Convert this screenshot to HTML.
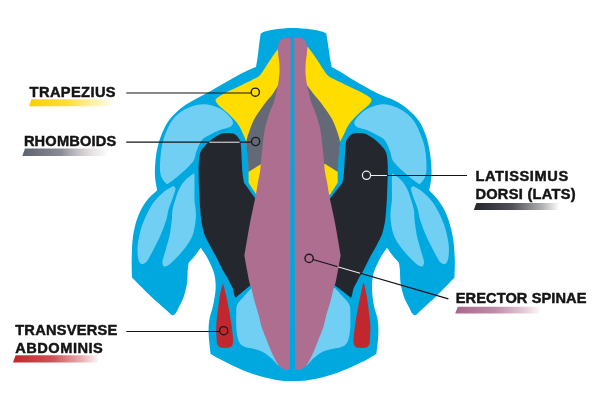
<!DOCTYPE html>
<html>
<head>
<meta charset="utf-8">
<title>Back muscles</title>
<style>
html,body{margin:0;padding:0;background:#fff;}
body{width:600px;height:401px;overflow:hidden;}
svg{display:block;}
text{font-family:"Liberation Sans",sans-serif;font-weight:bold;fill:#141414;}
</style>
</head>
<body>
<svg width="600" height="401" viewBox="0 0 600 401">
<defs>
<filter id="noaa" filterUnits="userSpaceOnUse" x="0" y="0" width="600" height="401"><feOffset dx="0" dy="0"/></filter>
<linearGradient id="gy" x1="0" x2="1" y1="0" y2="0"><stop offset="0" stop-color="#f7cf00"/><stop offset="0.45" stop-color="#ffd800" stop-opacity="0.8"/><stop offset="0.8" stop-color="#ffe040" stop-opacity="0.35"/><stop offset="1" stop-color="#ffe040" stop-opacity="0"/></linearGradient>
<linearGradient id="gg" x1="0" x2="1" y1="0" y2="0"><stop offset="0" stop-color="#5d616e"/><stop offset="0.45" stop-color="#6d707c" stop-opacity="0.8"/><stop offset="0.8" stop-color="#b9a6ae" stop-opacity="0.35"/><stop offset="1" stop-color="#b9a6ae" stop-opacity="0"/></linearGradient>
<linearGradient id="gr" x1="0" x2="1" y1="0" y2="0"><stop offset="0" stop-color="#c1272d"/><stop offset="0.45" stop-color="#c1272d" stop-opacity="0.8"/><stop offset="0.8" stop-color="#c1272d" stop-opacity="0.35"/><stop offset="1" stop-color="#c1272d" stop-opacity="0"/></linearGradient>
<linearGradient id="gd" x1="0" x2="1" y1="0" y2="0"><stop offset="0" stop-color="#25272f"/><stop offset="0.45" stop-color="#25272f" stop-opacity="0.8"/><stop offset="0.8" stop-color="#25272f" stop-opacity="0.35"/><stop offset="1" stop-color="#25272f" stop-opacity="0"/></linearGradient>
<linearGradient id="gm" x1="0" x2="1" y1="0" y2="0"><stop offset="0" stop-color="#a9678b"/><stop offset="0.45" stop-color="#ae6e90" stop-opacity="0.8"/><stop offset="0.8" stop-color="#ae6e90" stop-opacity="0.35"/><stop offset="1" stop-color="#ae6e90" stop-opacity="0"/></linearGradient>
</defs>
<rect width="600" height="401" fill="#fff"/>
<path d="M260.70,33.50 C260.42,35.58 259.53,41.92 259.00,46.00 C258.47,50.08 258.00,54.50 257.50,58.00 C257.00,61.50 256.25,65.50 256.00,67.00 C254.67,67.53 251.22,68.70 248.00,70.20 C244.78,71.70 241.37,73.45 236.70,76.00 C232.03,78.55 224.87,82.70 220.00,85.50 C215.13,88.30 212.08,90.25 207.50,92.80 C202.92,95.35 197.08,98.10 192.50,100.80 C187.92,103.50 184.00,105.63 180.00,109.00 C176.00,112.37 171.70,116.42 168.50,121.00 C165.30,125.58 162.80,131.25 160.80,136.50 C158.80,141.75 157.48,146.92 156.50,152.50 C155.52,158.08 155.07,165.25 154.90,170.00 C154.73,174.75 155.11,177.62 155.50,181.00 C155.89,184.38 156.96,188.75 157.25,190.30 C155.62,191.87 150.38,196.13 147.50,199.70 C144.62,203.27 142.03,207.48 140.00,211.70 C137.97,215.92 136.53,220.28 135.30,225.00 C134.07,229.72 133.20,234.17 132.60,240.00 C132.00,245.83 131.80,253.75 131.70,260.00 C131.60,266.25 131.95,274.58 132.00,277.50 C135.00,280.50 144.50,290.25 150.00,295.50 C155.50,300.75 161.75,306.08 165.00,309.00 C168.25,311.92 168.75,312.33 169.50,313.00 C169.75,313.25 170.42,314.13 171.00,314.50 C171.58,314.87 172.33,315.28 173.00,315.20 C173.67,315.12 174.42,314.53 175.00,314.00 C175.58,313.47 176.25,312.33 176.50,312.00 C176.83,311.33 177.30,310.55 178.50,308.00 C179.70,305.45 182.28,300.82 183.70,296.70 C185.12,292.58 186.33,287.75 187.00,283.30 C187.67,278.85 187.42,273.43 187.70,270.00 C187.98,266.57 188.53,263.92 188.70,262.70 C189.70,261.58 192.70,258.50 194.70,256.00 C196.70,253.50 199.70,249.08 200.70,247.70 C201.63,249.08 204.50,252.87 206.30,256.00 C208.10,259.13 210.10,263.17 211.50,266.50 C212.90,269.83 214.02,272.25 214.70,276.00 C215.38,279.75 215.85,284.17 215.60,289.00 C215.35,293.83 214.25,299.83 213.20,305.00 C212.15,310.17 210.05,315.00 209.30,320.00 C208.55,325.00 208.48,329.33 208.70,335.00 C208.92,340.67 210.28,350.83 210.60,354.00 C213.00,355.28 218.43,358.53 225.00,361.70 C231.57,364.87 241.67,370.00 250.00,373.00 C258.33,376.00 267.92,378.37 275.00,379.70 C282.08,381.03 286.58,380.98 292.50,381.00 C298.42,381.02 303.21,381.10 310.49,379.81 C317.77,378.52 327.62,376.21 336.19,373.26 C344.76,370.31 355.19,365.32 361.89,362.11 C368.59,358.90 373.98,355.35 376.40,354.00 C376.72,350.83 378.08,340.67 378.30,335.00 C378.52,329.33 378.45,325.00 377.70,320.00 C376.95,315.00 374.75,310.17 373.80,305.00 C372.85,299.83 372.15,293.83 372.00,289.00 C371.85,284.17 372.22,279.75 372.90,276.00 C373.58,272.25 374.68,269.83 376.10,266.50 C377.52,263.17 379.58,259.13 381.40,256.00 C383.22,252.87 386.07,249.08 387.00,247.70 C388.00,249.08 391.02,253.50 393.00,256.00 C394.98,258.50 397.92,261.58 398.90,262.70 C399.07,263.92 399.62,266.57 399.90,270.00 C400.18,273.43 399.93,278.85 400.60,283.30 C401.27,287.75 402.44,292.58 403.90,296.70 C405.36,300.82 408.14,305.45 409.37,308.00 C410.61,310.55 410.99,311.33 411.31,312.00 C411.55,312.33 412.20,313.47 412.76,314.00 C413.33,314.53 414.05,315.12 414.70,315.20 C415.35,315.28 416.07,314.87 416.64,314.50 C417.20,314.13 417.85,313.25 418.09,313.00 C418.82,312.33 419.30,311.92 422.45,309.00 C425.59,306.08 431.63,300.75 436.97,295.50 C442.31,290.25 451.58,280.50 454.50,277.50 C454.55,274.58 455.00,266.25 454.80,260.00 C454.60,253.75 454.10,245.83 453.30,240.00 C452.50,234.17 451.33,229.72 450.00,225.00 C448.67,220.28 447.33,215.92 445.30,211.70 C443.27,207.48 440.49,203.27 437.80,199.70 C435.11,196.13 430.59,191.87 429.15,190.30 C429.44,188.75 430.51,184.38 430.90,181.00 C431.29,177.62 431.67,174.75 431.50,170.00 C431.33,165.25 430.78,158.08 429.90,152.50 C429.02,146.92 428.02,141.75 426.20,136.50 C424.38,131.25 422.12,125.58 419.00,121.00 C415.88,116.42 411.58,112.40 407.50,109.00 C403.42,105.60 399.08,103.00 394.50,100.60 C389.92,98.20 384.50,96.70 380.00,94.60 C375.50,92.50 372.42,90.73 367.50,88.00 C362.58,85.27 355.17,80.98 350.50,78.20 C345.83,75.42 342.63,73.17 339.50,71.30 C336.37,69.43 333.00,67.72 331.70,67.00 C331.42,65.50 330.59,61.50 330.01,58.00 C329.44,54.50 328.88,50.08 328.26,46.00 C327.64,41.92 326.63,35.58 326.30,33.50 C325.55,33.17 324.48,32.20 321.77,31.50 C319.07,30.80 314.94,29.88 310.06,29.30 C305.19,28.72 298.18,28.00 292.50,28.00 C286.82,28.00 280.58,28.72 276.00,29.30 C271.42,29.88 267.55,30.80 265.00,31.50 C262.45,32.20 261.42,33.17 260.70,33.50 Z" fill="#00a8e0"/>
<path d="M282.00,45.00 L278.00,49.00 C277.25,50.00 275.08,52.75 273.50,55.00 C271.92,57.25 270.08,60.08 268.50,62.50 C266.92,64.92 265.33,67.50 264.00,69.50 C262.67,71.50 261.67,73.17 260.50,74.50 C259.33,75.83 258.42,76.58 257.00,77.50 C255.58,78.42 254.28,78.88 252.00,80.00 C249.72,81.12 246.30,82.73 243.30,84.20 C240.30,85.67 237.05,87.33 234.00,88.80 C230.95,90.27 227.78,91.50 225.00,93.00 C222.22,94.50 218.87,96.55 217.30,97.80 C215.73,99.05 215.62,99.55 215.60,100.50 C215.58,101.45 216.38,102.42 217.20,103.50 C218.02,104.58 218.45,105.12 220.50,107.00 C222.55,108.88 226.50,111.80 229.50,114.80 C232.50,117.80 236.17,121.63 238.50,125.00 C240.83,128.37 242.20,132.17 243.50,135.00 C244.80,137.83 245.83,140.83 246.30,142.00 C246.45,143.33 246.85,147.00 247.20,150.00 C247.55,153.00 248.17,156.17 248.40,160.00 C248.63,163.83 248.57,169.22 248.60,173.00 C248.63,176.78 248.60,181.08 248.60,182.70 L256.30,194.70 L265.00,194.00 L285.00,100.00 L282.00,45.00 Z" fill="#ffdd00"/>
<path d="M305.20,44.70 L309.20,48.70 C309.95,49.70 312.12,52.45 313.70,54.70 C315.28,56.95 317.12,59.78 318.70,62.20 C320.28,64.62 321.87,67.20 323.20,69.20 C324.53,71.20 325.53,72.87 326.70,74.20 C327.87,75.53 328.78,76.28 330.20,77.20 C331.62,78.12 332.92,78.58 335.20,79.70 C337.48,80.82 340.90,82.43 343.90,83.90 C346.90,85.37 350.15,87.03 353.20,88.50 C356.25,89.97 359.42,91.20 362.20,92.70 C364.98,94.20 368.33,96.25 369.90,97.50 C371.47,98.75 371.58,99.25 371.60,100.20 C371.62,101.15 370.82,102.12 370.00,103.20 C369.18,104.28 368.75,104.82 366.70,106.70 C364.65,108.58 360.70,111.50 357.70,114.50 C354.70,117.50 351.03,121.33 348.70,124.70 C346.37,128.07 345.15,131.82 343.70,134.70 C342.25,137.58 340.62,140.78 340.00,142.00 C339.85,143.33 339.45,147.00 339.10,150.00 C338.75,153.00 338.13,156.17 337.90,160.00 C337.67,163.83 337.73,169.22 337.70,173.00 C337.67,176.78 337.70,181.08 337.70,182.70 L330.00,194.70 L321.30,194.00 L300.00,100.00 L305.20,44.70 Z" fill="#ffdd00"/>
<path d="M284.00,78.00 L279.20,83.50 C278.12,85.25 274.90,90.92 272.70,94.00 C270.50,97.08 268.23,99.12 266.00,102.00 C263.77,104.88 261.30,108.38 259.30,111.30 C257.30,114.22 255.43,116.83 254.00,119.50 C252.57,122.17 251.70,124.72 250.70,127.30 C249.70,129.88 248.73,132.55 248.00,135.00 C247.27,137.45 246.50,139.50 246.30,142.00 C246.10,144.50 246.52,147.00 246.80,150.00 C247.08,153.00 247.73,156.33 248.00,160.00 C248.27,163.67 248.33,170.00 248.40,172.00 L260.70,164.30 L275.00,160.00 L284.00,78.00 Z" fill="#636977"/>
<path d="M301.00,78.00 L305.80,83.50 C307.10,85.25 311.18,90.92 313.60,94.00 C316.02,97.08 318.07,99.12 320.30,102.00 C322.53,104.88 325.00,108.38 327.00,111.30 C329.00,114.22 330.87,116.83 332.30,119.50 C333.73,122.17 334.60,124.72 335.60,127.30 C336.60,129.88 337.57,132.55 338.30,135.00 C339.03,137.45 339.80,139.50 340.00,142.00 C340.20,144.50 339.78,147.00 339.50,150.00 C339.22,153.00 338.57,156.33 338.30,160.00 C338.03,163.67 337.97,170.00 337.90,172.00 L325.60,164.30 L311.30,160.00 L301.00,78.00 Z" fill="#636977"/>
<path d="M167.00,184.25 C166.25,183.38 163.67,181.38 162.50,179.00 C161.33,176.62 160.21,174.83 160.00,170.00 C159.79,165.17 160.42,155.83 161.25,150.00 C162.08,144.17 163.12,140.00 165.00,135.00 C166.88,130.00 169.17,124.28 172.50,120.00 C175.83,115.72 180.00,111.92 185.00,109.30 C190.00,106.68 196.67,104.43 202.50,104.30 C208.33,104.17 215.42,106.38 220.00,108.50 C224.58,110.62 227.83,114.67 230.00,117.00 C232.17,119.33 232.83,120.95 233.00,122.50 C233.17,124.05 232.17,125.33 231.00,126.30 C229.83,127.27 227.83,127.68 226.00,128.30 C224.17,128.92 222.67,128.93 220.00,130.00 C217.33,131.07 213.00,133.03 210.00,134.70 C207.00,136.37 204.22,137.33 202.00,140.00 C199.78,142.67 198.03,147.37 196.70,150.70 C195.37,154.03 195.12,157.62 194.00,160.00 C192.88,162.38 191.50,163.33 190.00,165.00 C188.50,166.67 187.58,167.67 185.00,170.00 C182.42,172.33 177.50,176.62 174.50,179.00 C171.50,181.38 168.25,183.38 167.00,184.25 Z" fill="#70cff2"/>
<path d="M419.50,184.25 C420.25,183.38 422.83,181.38 424.00,179.00 C425.17,176.62 426.29,174.83 426.50,170.00 C426.71,165.17 426.20,155.78 425.25,150.00 C424.30,144.22 422.79,140.25 420.80,135.30 C418.81,130.35 416.63,124.58 413.30,120.30 C409.97,116.02 405.68,112.27 400.80,109.60 C395.92,106.93 389.58,104.43 384.00,104.30 C378.42,104.17 371.75,106.63 367.30,108.80 C362.85,110.97 359.47,114.97 357.30,117.30 C355.13,119.63 354.47,121.25 354.30,122.80 C354.13,124.35 355.13,125.63 356.30,126.60 C357.47,127.57 359.47,127.98 361.30,128.60 C363.13,129.22 364.77,129.28 367.30,130.30 C369.83,131.32 373.63,133.08 376.50,134.70 C379.37,136.32 382.28,137.33 384.50,140.00 C386.72,142.67 388.47,147.37 389.80,150.70 C391.13,154.03 391.38,157.62 392.50,160.00 C393.62,162.38 395.00,163.33 396.50,165.00 C398.00,166.67 398.92,167.67 401.50,170.00 C404.08,172.33 409.00,176.62 412.00,179.00 C415.00,181.38 418.25,183.38 419.50,184.25 Z" fill="#70cff2"/>
<path d="M172.00,186.80 C173.60,185.88 173.10,186.08 173.60,186.20 C174.10,186.32 174.70,186.95 175.00,187.50 C175.30,188.05 175.78,187.70 175.40,189.50 C175.02,191.30 173.82,195.05 172.70,198.30 C171.58,201.55 169.70,205.67 168.70,209.00 C167.70,212.33 167.40,215.63 166.70,218.30 C166.00,220.97 165.17,223.05 164.50,225.00 C163.83,226.95 163.67,227.62 162.70,230.00 C161.73,232.38 160.27,235.97 158.70,239.30 C157.13,242.63 155.17,246.47 153.30,250.00 C151.43,253.53 148.88,258.33 147.50,260.50 C146.12,262.67 145.92,262.38 145.00,263.00 C144.08,263.62 142.95,264.37 142.00,264.20 C141.05,264.03 140.00,263.37 139.30,262.00 C138.60,260.63 138.08,258.67 137.80,256.00 C137.52,253.33 137.35,249.38 137.60,246.00 C137.85,242.62 138.45,239.42 139.30,235.70 C140.15,231.98 141.25,227.70 142.70,223.70 C144.15,219.70 146.00,215.48 148.00,211.70 C150.00,207.92 152.03,204.33 154.70,201.00 C157.37,197.67 161.12,194.07 164.00,191.70 C166.88,189.33 170.40,187.72 172.00,186.80Z" fill="#70cff2"/>
<path d="M414.40,186.80 C412.80,185.88 413.30,186.08 412.80,186.20 C412.30,186.32 411.70,186.95 411.40,187.50 C411.10,188.05 410.62,187.70 411.00,189.50 C411.38,191.30 412.58,195.05 413.70,198.30 C414.82,201.55 416.70,205.67 417.70,209.00 C418.70,212.33 419.00,215.63 419.70,218.30 C420.40,220.97 421.23,223.05 421.90,225.00 C422.57,226.95 422.73,227.62 423.70,230.00 C424.67,232.38 426.13,235.97 427.70,239.30 C429.27,242.63 431.23,246.47 433.10,250.00 C434.97,253.53 437.52,258.33 438.90,260.50 C440.28,262.67 440.48,262.38 441.40,263.00 C442.32,263.62 443.45,264.37 444.40,264.20 C445.35,264.03 446.40,263.37 447.10,262.00 C447.80,260.63 448.32,258.67 448.60,256.00 C448.88,253.33 449.05,249.38 448.80,246.00 C448.55,242.62 447.95,239.42 447.10,235.70 C446.25,231.98 445.15,227.70 443.70,223.70 C442.25,219.70 440.40,215.48 438.40,211.70 C436.40,207.92 434.37,204.33 431.70,201.00 C429.03,197.67 425.28,194.07 422.40,191.70 C419.52,189.33 416.00,187.72 414.40,186.80Z" fill="#70cff2"/>
<path d="M194.00,173.30 C192.50,174.50 187.50,177.80 185.00,180.50 C182.50,183.20 180.62,186.25 179.00,189.50 C177.38,192.75 176.33,196.58 175.25,200.00 C174.17,203.42 173.07,206.67 172.50,210.00 C171.93,213.33 172.13,216.67 171.80,220.00 C171.47,223.33 170.93,227.17 170.50,230.00 C170.07,232.83 170.08,233.58 169.25,237.00 C168.42,240.42 166.62,246.50 165.50,250.50 C164.38,254.50 162.92,258.58 162.50,261.00 C162.08,263.42 162.62,264.08 163.00,265.00 C163.38,265.92 163.58,266.67 164.75,266.50 C165.92,266.33 167.38,266.17 170.00,264.00 C172.62,261.83 177.25,257.25 180.50,253.50 C183.75,249.75 187.33,245.00 189.50,241.50 C191.67,238.00 192.47,236.08 193.50,232.50 C194.53,228.92 195.33,223.75 195.70,220.00 C196.07,216.25 195.90,213.33 195.70,210.00 C195.50,206.67 194.70,204.17 194.50,200.00 C194.30,195.83 194.50,189.00 194.50,185.00 C194.50,181.00 194.58,177.95 194.50,176.00 C194.42,174.05 194.08,173.75 194.00,173.30 Z" fill="#70cff2"/>
<path d="M392.40,173.30 C393.90,174.50 398.90,177.80 401.40,180.50 C403.90,183.20 405.77,186.25 407.40,189.50 C409.02,192.75 410.07,196.58 411.15,200.00 C412.23,203.42 413.32,206.67 413.90,210.00 C414.47,213.33 414.27,216.67 414.60,220.00 C414.93,223.33 415.47,227.17 415.90,230.00 C416.32,232.83 416.32,233.58 417.15,237.00 C417.98,240.42 419.77,246.50 420.90,250.50 C422.02,254.50 423.48,258.58 423.90,261.00 C424.32,263.42 423.77,264.08 423.40,265.00 C423.02,265.92 422.82,266.67 421.65,266.50 C420.48,266.33 419.02,266.17 416.40,264.00 C413.77,261.83 409.15,257.25 405.90,253.50 C402.65,249.75 399.07,245.00 396.90,241.50 C394.73,238.00 393.93,236.08 392.90,232.50 C391.87,228.92 391.07,223.75 390.70,220.00 C390.33,216.25 390.50,213.33 390.70,210.00 C390.90,206.67 391.70,204.17 391.90,200.00 C392.10,195.83 391.90,189.00 391.90,185.00 C391.90,181.00 391.82,177.95 391.90,176.00 C391.98,174.05 392.32,173.75 392.40,173.30 Z" fill="#70cff2"/>
<path d="M251.50,288.00 L265.00,288.00 L286.00,366.00 L278.00,365.50 C277.42,364.83 275.72,362.80 274.50,361.50 C273.28,360.20 272.67,359.30 270.70,357.70 C268.73,356.10 265.60,353.38 262.70,351.90 C259.80,350.42 256.08,349.57 253.30,348.80 C250.52,348.03 247.97,347.93 246.00,347.30 C244.03,346.67 242.72,346.05 241.50,345.00 C240.28,343.95 239.45,342.83 238.70,341.00 C237.95,339.17 237.42,336.67 237.00,334.00 C236.58,331.33 236.32,328.67 236.20,325.00 C236.08,321.33 236.23,315.08 236.30,312.00 C236.37,308.92 236.23,308.08 236.60,306.50 C236.97,304.92 237.60,303.83 238.50,302.50 C239.40,301.17 240.58,300.08 242.00,298.50 C243.42,296.92 245.42,294.75 247.00,293.00 C248.58,291.25 250.75,288.83 251.50,288.00 Z" fill="#70cff2"/>
<path d="M335.10,288.00 L320.00,288.00 L299.00,366.00 L307.00,365.50 C307.58,364.83 309.28,362.80 310.50,361.50 C311.72,360.20 312.33,359.30 314.30,357.70 C316.27,356.10 319.13,353.38 322.30,351.90 C325.47,350.42 330.25,349.57 333.30,348.80 C336.35,348.03 338.63,347.93 340.60,347.30 C342.57,346.67 343.88,346.05 345.10,345.00 C346.32,343.95 347.15,342.83 347.90,341.00 C348.65,339.17 349.18,336.67 349.60,334.00 C350.02,331.33 350.28,328.67 350.40,325.00 C350.52,321.33 350.37,315.08 350.30,312.00 C350.23,308.92 350.37,308.08 350.00,306.50 C349.63,304.92 349.00,303.83 348.10,302.50 C347.20,301.17 346.02,300.08 344.60,298.50 C343.18,296.92 341.18,294.75 339.60,293.00 C338.02,291.25 335.85,288.83 335.10,288.00 Z" fill="#70cff2"/>
<path d="M244.00,182.70 L257.00,201.00 C256.17,204.67 253.50,216.50 252.00,223.00 C250.50,229.50 248.92,234.50 248.00,240.00 C247.08,245.50 246.33,251.00 246.50,256.00 C246.67,261.00 248.08,265.33 249.00,270.00 C249.92,274.67 251.50,281.67 252.00,284.00 L237.00,296.50 C236.72,296.68 235.75,297.85 235.30,297.60 C234.85,297.35 234.47,295.43 234.30,295.00 C234.03,293.83 233.42,290.00 232.70,288.00 C231.98,286.00 231.00,284.92 230.00,283.00 C229.00,281.08 227.82,278.50 226.70,276.50 C225.58,274.50 224.97,274.13 223.30,271.00 C221.63,267.87 218.92,261.92 216.70,257.70 C214.48,253.48 212.00,249.48 210.00,245.70 C208.00,241.92 205.95,238.12 204.70,235.00 C203.45,231.88 203.08,229.50 202.50,227.00 C201.92,224.50 201.57,222.83 201.20,220.00 C200.83,217.17 200.60,213.88 200.30,210.00 C200.00,206.12 199.68,202.87 199.40,196.70 C199.12,190.53 198.67,179.12 198.60,173.00 C198.53,166.88 198.68,163.50 199.00,160.00 C199.32,156.50 199.63,154.22 200.50,152.00 C201.37,149.78 202.45,148.70 204.20,146.70 C205.95,144.70 208.28,142.12 211.00,140.00 C213.72,137.88 217.78,135.17 220.50,134.00 C223.22,132.83 225.00,133.00 227.30,133.00 C229.60,133.00 232.27,132.92 234.30,134.00 C236.33,135.08 238.38,137.38 239.50,139.50 C240.62,141.62 240.63,143.28 241.00,146.70 C241.37,150.12 241.45,155.62 241.70,160.00 C241.95,164.38 242.12,169.22 242.50,173.00 C242.88,176.78 243.75,181.08 244.00,182.70 Z" fill="#25272f"/>
<path d="M342.40,182.70 L328.00,201.00 C328.83,204.67 331.50,216.50 333.00,223.00 C334.50,229.50 336.08,234.50 337.00,240.00 C337.92,245.50 338.67,251.00 338.50,256.00 C338.33,261.00 336.92,265.33 336.00,270.00 C335.08,274.67 333.50,281.67 333.00,284.00 L349.40,296.50 C349.68,296.68 350.65,297.85 351.10,297.60 C351.55,297.35 351.93,295.43 352.10,295.00 C352.37,293.83 352.98,290.00 353.70,288.00 C354.42,286.00 355.40,284.92 356.40,283.00 C357.40,281.08 358.58,278.50 359.70,276.50 C360.82,274.50 361.43,274.13 363.10,271.00 C364.77,267.87 367.48,261.92 369.70,257.70 C371.92,253.48 374.40,249.48 376.40,245.70 C378.40,241.92 380.45,238.12 381.70,235.00 C382.95,231.88 383.32,229.50 383.90,227.00 C384.48,224.50 384.83,222.83 385.20,220.00 C385.57,217.17 385.80,213.88 386.10,210.00 C386.40,206.12 386.72,202.87 387.00,196.70 C387.28,190.53 387.73,179.12 387.80,173.00 C387.87,166.88 387.72,163.50 387.40,160.00 C387.08,156.50 386.77,154.22 385.90,152.00 C385.03,149.78 383.95,148.70 382.20,146.70 C380.45,144.70 378.12,142.12 375.40,140.00 C372.68,137.88 368.62,135.17 365.90,134.00 C363.18,132.83 361.40,133.00 359.10,133.00 C356.80,133.00 354.13,132.92 352.10,134.00 C350.07,135.08 348.02,137.38 346.90,139.50 C345.78,141.62 345.77,143.28 345.40,146.70 C345.03,150.12 344.95,155.62 344.70,160.00 C344.45,164.38 344.28,169.22 343.90,173.00 C343.52,176.78 342.65,181.08 342.40,182.70 Z" fill="#25272f"/>
<path d="M223.00,283.30 C222.50,285.25 220.87,290.38 220.00,295.00 C219.13,299.62 218.42,306.00 217.80,311.00 C217.18,316.00 216.50,320.50 216.30,325.00 C216.10,329.50 216.43,334.83 216.60,338.00 C216.77,341.17 216.87,342.53 217.30,344.00 C217.73,345.47 218.42,346.17 219.20,346.80 C219.98,347.43 220.45,347.63 222.00,347.80 C223.55,347.97 226.95,348.00 228.50,347.80 C230.05,347.60 230.58,347.32 231.30,346.60 C232.02,345.88 232.52,344.93 232.80,343.50 C233.08,342.07 233.22,341.08 233.00,338.00 C232.78,334.92 232.22,329.95 231.50,325.00 C230.78,320.05 229.62,313.30 228.70,308.30 C227.78,303.30 226.95,299.17 226.00,295.00 C225.05,290.83 223.50,285.25 223.00,283.30 Z" fill="#c1272d"/>
<path d="M363.60,281.50 C364.10,283.75 365.73,290.08 366.60,295.00 C367.47,299.92 368.18,306.00 368.80,311.00 C369.42,316.00 370.10,320.50 370.30,325.00 C370.50,329.50 370.17,334.83 370.00,338.00 C369.83,341.17 369.73,342.53 369.30,344.00 C368.87,345.47 368.18,346.17 367.40,346.80 C366.62,347.43 366.15,347.63 364.60,347.80 C363.05,347.97 359.65,348.00 358.10,347.80 C356.55,347.60 356.02,347.32 355.30,346.60 C354.58,345.88 354.08,344.93 353.80,343.50 C353.52,342.07 353.38,341.08 353.60,338.00 C353.82,334.92 354.38,329.95 355.10,325.00 C355.82,320.05 356.98,313.30 357.90,308.30 C358.82,303.30 359.65,299.47 360.60,295.00 C361.55,290.53 363.10,283.75 363.60,281.50 Z" fill="#c1272d"/>
<path d="M290.80,37.90 C290.00,37.87 287.30,37.62 286.00,37.70 C284.70,37.78 283.92,37.97 283.00,38.40 C282.08,38.83 281.20,39.48 280.50,40.30 C279.80,41.12 279.25,42.10 278.80,43.30 C278.35,44.50 277.90,45.72 277.80,47.50 C277.70,49.28 277.95,51.42 278.20,54.00 C278.45,56.58 279.08,60.00 279.30,63.00 C279.52,66.00 279.63,68.83 279.50,72.00 C279.37,75.17 278.87,79.28 278.50,82.00 C278.13,84.72 277.80,86.05 277.30,88.30 C276.80,90.55 276.05,93.27 275.50,95.50 C274.95,97.73 274.75,99.45 274.00,101.70 C273.25,103.95 271.88,106.78 271.00,109.00 C270.12,111.22 269.43,112.83 268.70,115.00 C267.97,117.17 267.22,119.83 266.60,122.00 C265.98,124.17 265.48,125.67 265.00,128.00 C264.52,130.33 264.08,133.17 263.70,136.00 C263.32,138.83 263.05,141.83 262.70,145.00 C262.35,148.17 261.93,151.67 261.60,155.00 C261.27,158.33 260.97,162.17 260.70,165.00 C260.43,167.83 260.45,169.17 260.00,172.00 C259.55,174.83 258.67,178.33 258.00,182.00 C257.33,185.67 256.88,189.33 256.00,194.00 C255.12,198.67 253.70,205.17 252.70,210.00 C251.70,214.83 250.95,218.00 250.00,223.00 C249.05,228.00 247.93,234.58 247.00,240.00 C246.07,245.42 244.83,252.92 244.40,255.50 C244.83,257.92 246.18,265.58 247.00,270.00 C247.82,274.42 248.58,278.95 249.30,282.00 C250.02,285.05 250.40,285.02 251.30,288.30 C252.20,291.58 253.47,297.25 254.70,301.70 C255.93,306.15 257.60,310.95 258.70,315.00 C259.80,319.05 260.08,322.12 261.30,326.00 C262.52,329.88 264.38,334.13 266.00,338.30 C267.62,342.47 269.10,346.80 271.00,351.00 C272.90,355.20 275.65,360.70 277.40,363.50 C279.15,366.30 280.15,366.80 281.50,367.80 C282.85,368.80 284.08,369.30 285.50,369.50 C286.92,369.70 289.25,369.08 290.00,369.00 L290.80,37.90 Z" fill="#ae6e90"/>
<path d="M294.20,37.90 C295.00,37.87 297.70,37.62 299.00,37.70 C300.30,37.78 301.08,37.97 302.00,38.40 C302.92,38.83 303.80,39.48 304.50,40.30 C305.20,41.12 305.75,42.10 306.20,43.30 C306.65,44.50 307.10,45.72 307.20,47.50 C307.30,49.28 307.05,51.42 306.80,54.00 C306.55,56.58 305.92,60.00 305.70,63.00 C305.48,66.00 305.37,68.83 305.50,72.00 C305.63,75.17 306.13,79.28 306.50,82.00 C306.87,84.72 307.20,86.05 307.70,88.30 C308.20,90.55 308.95,93.27 309.50,95.50 C310.05,97.73 310.25,99.45 311.00,101.70 C311.75,103.95 313.12,106.78 314.00,109.00 C314.88,111.22 315.57,112.83 316.30,115.00 C317.03,117.17 317.78,119.83 318.40,122.00 C319.02,124.17 319.52,125.67 320.00,128.00 C320.48,130.33 320.92,133.17 321.30,136.00 C321.68,138.83 321.95,141.83 322.30,145.00 C322.65,148.17 323.07,151.67 323.40,155.00 C323.73,158.33 324.03,162.17 324.30,165.00 C324.57,167.83 324.55,169.17 325.00,172.00 C325.45,174.83 326.33,178.33 327.00,182.00 C327.67,185.67 328.12,189.33 329.00,194.00 C329.88,198.67 331.30,205.17 332.30,210.00 C333.30,214.83 334.05,218.00 335.00,223.00 C335.95,228.00 337.07,234.58 338.00,240.00 C338.93,245.42 340.17,252.92 340.60,255.50 C340.17,257.92 338.82,265.58 338.00,270.00 C337.18,274.42 336.42,278.95 335.70,282.00 C334.98,285.05 334.60,285.02 333.70,288.30 C332.80,291.58 331.53,297.25 330.30,301.70 C329.07,306.15 327.40,310.95 326.30,315.00 C325.20,319.05 324.92,322.12 323.70,326.00 C322.48,329.88 320.62,334.13 319.00,338.30 C317.38,342.47 315.90,346.80 314.00,351.00 C312.10,355.20 309.35,360.70 307.60,363.50 C305.85,366.30 304.85,366.80 303.50,367.80 C302.15,368.80 300.92,369.30 299.50,369.50 C298.08,369.70 295.75,369.08 295.00,369.00 L294.20,37.90 Z" fill="#ae6e90"/>
<!-- leader lines -->
<g stroke="#161415" stroke-width="1.2" fill="none">
<line x1="126.25" y1="93" x2="251.2" y2="93"/>
<line x1="126.25" y1="142.2" x2="251.5" y2="142.2"/>
<line x1="126.25" y1="331.5" x2="219.6" y2="331.5"/>
<line x1="386.9" y1="175.5" x2="467" y2="175.5"/>
<line x1="313" y1="259.5" x2="448.4" y2="298.8"/>
</g>
<g stroke="#f4eef1" stroke-width="1.05" fill="none">
<line x1="209.3" y1="142.2" x2="239.6" y2="142.2"/>
<line x1="370.5" y1="175.5" x2="386.9" y2="175.5"/>
<line x1="337.6" y1="266.65" x2="360.2" y2="273.2"/>
</g>
<g stroke="#1c1a1b" stroke-width="1.4" fill="none">
<circle cx="255.3" cy="92.2" r="4.1"/>
<circle cx="255.6" cy="141.5" r="4.1"/>
<circle cx="223.7" cy="330.7" r="4.1"/>
<circle cx="309.1" cy="258.4" r="4.1"/>
</g>
<circle cx="366.5" cy="175.3" r="4.1" stroke="#f1eaee" stroke-width="1.25" fill="none"/>
<!-- gradient bars -->
<polygon points="31.4,99.3 116,99.3 113.6,106.2 29,106.2" fill="url(#gy)"/>
<polygon points="25,148.6 109,148.6 106.5,156 22.3,156" fill="url(#gg)"/>
<polygon points="15.6,355.2 100,355.2 97.5,362.4 13,362.4" fill="url(#gr)"/>
<polygon points="476.4,203 560,203 557.5,210 473.8,210" fill="url(#gd)"/>
<polygon points="457.8,306.8 542,306.8 539.4,313.6 455.2,313.6" fill="url(#gm)"/>
<!-- labels -->
<g font-size="14.2" filter="url(#noaa)" stroke="#141414" stroke-width="0.45" stroke-linejoin="miter">
<text transform="translate(29.60,97.20) scale(1.030,1)" textLength="83.50" lengthAdjust="spacing">TRAPEZIUS</text>
<text transform="translate(23.90,146.40) scale(1.030,1)" textLength="89.71" lengthAdjust="spacing">RHOMBOIDS</text>
<text transform="translate(15.20,334.90) scale(1.030,1)" textLength="99.03" lengthAdjust="spacing">TRANSVERSE</text>
<text transform="translate(15.20,353.20) scale(1.030,1)" textLength="85.05" lengthAdjust="spacing">ABDOMINIS</text>
<text transform="translate(475.40,181.00) scale(1.030,1)" textLength="90.10" lengthAdjust="spacing">LATISSIMUS</text>
<text transform="translate(475.40,199.30) scale(1.030,1)" textLength="97.28" lengthAdjust="spacing">DORSI (LATS)</text>
<text transform="translate(455.70,303.10) scale(1.030,1)" textLength="126.99" lengthAdjust="spacing">ERECTOR SPINAE</text>
</g>
</svg>
</body>
</html>
